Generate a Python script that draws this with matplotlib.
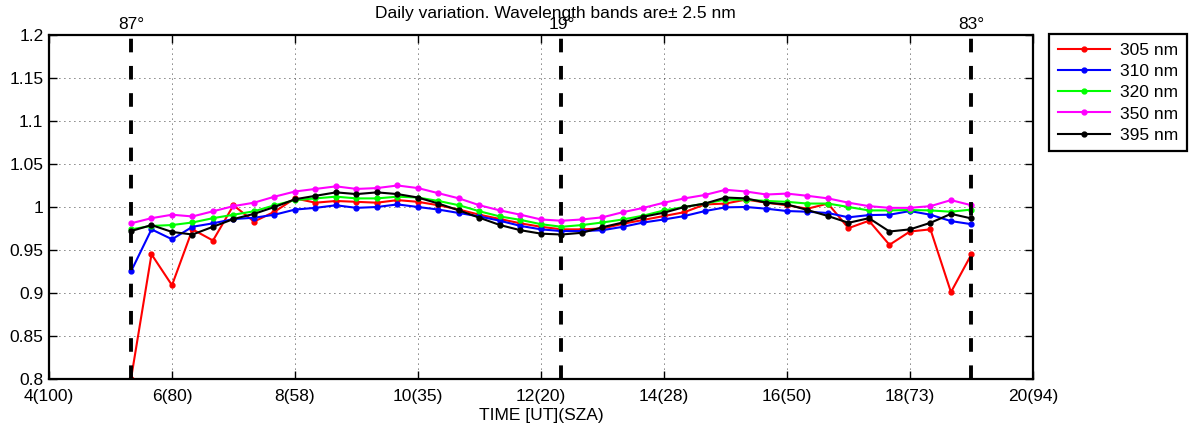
import numpy as np
import matplotlib
matplotlib.use("Agg")
import matplotlib.pyplot as plt

plt.rcParams['font.family'] = ['Liberation Sans', 'DejaVu Sans']

# time axis: one point every 20 minutes from 5:20 to 19:00 UT
t_start = 5 + 1/3
n_points = 42
time = t_start + np.arange(n_points) / 3

r305 = [0.800, 0.945, 0.909, 0.974, 0.961, 1.002, 0.983, 0.9945, 1.010, 1.005,
        1.007, 1.006, 1.005, 1.008, 1.006, 1.002, 0.997, 0.991, 0.986, 0.981,
        0.977, 0.974, 0.974, 0.975, 0.9805, 0.985, 0.9895, 0.994, 1.003, 1.004,
        1.0086, 1.005, 1.002, 0.998, 1.004, 0.9754, 0.984, 0.956, 0.9715, 0.974,
        0.901, 0.945]
r310 = [0.925, 0.974, 0.9625, 0.977, 0.981, 0.986, 0.9875, 0.991, 0.997, 0.999,
        1.002, 0.999, 1.000, 1.003, 1.000, 0.997, 0.993, 0.989, 0.984, 0.978,
        0.974, 0.972, 0.972, 0.973, 0.977, 0.982, 0.9855, 0.9895, 0.9953, 0.9996,
        1.000, 0.998, 0.9953, 0.9945, 0.993, 0.988, 0.9906, 0.991, 0.9953, 0.991,
        0.9836, 0.980]
r320 = [0.974, 0.978, 0.979, 0.982, 0.987, 0.991, 0.995, 1.002, 1.008, 1.010,
        1.012, 1.010, 1.010, 1.012, 1.011, 1.007, 1.002, 0.995, 0.989, 0.985,
        0.980, 0.977, 0.979, 0.982, 0.9855, 0.990, 0.996, 1.000, 1.004, 1.0086,
        1.0086, 1.007, 1.006, 1.004, 1.004, 1.000, 0.996, 0.996, 0.9965, 0.996,
        0.9945, 0.997]
r350 = [0.981, 0.987, 0.991, 0.989, 0.995, 1.001, 1.005, 1.012, 1.018, 1.021,
        1.024, 1.021, 1.022, 1.025, 1.022, 1.016, 1.010, 1.002, 0.996, 0.991,
        0.9855, 0.984, 0.9855, 0.988, 0.994, 0.999, 1.005, 1.010, 1.014, 1.020,
        1.018, 1.0145, 1.0156, 1.013, 1.010, 1.005, 1.001, 0.999, 0.999, 1.001,
        1.008, 1.002]
r395 = [0.972, 0.979, 0.971, 0.968, 0.977, 0.986, 0.992, 1.000, 1.009, 1.013,
        1.017, 1.015, 1.017, 1.015, 1.011, 1.004, 0.996, 0.9875, 0.979, 0.973,
        0.969, 0.968, 0.970, 0.9765, 0.982, 0.9887, 0.9934, 1.000, 1.004, 1.011,
        1.010, 1.005, 1.003, 0.9965, 0.9895, 0.9816, 0.987, 0.9715, 0.974, 0.9816,
        0.992, 0.9867]

series = [("305 nm", r305, "#ff0000"),
          ("310 nm", r310, "#0000ff"),
          ("320 nm", r320, "#00ff00"),
          ("350 nm", r350, "#ff00ff"),
          ("395 nm", r395, "#000000")]

tick_pos = [4, 6, 8, 10, 12, 14, 16, 18, 20]
tick_labels = ["4(100)", "6(80)", "8(58)", "10(35)", "12(20)",
               "14(28)", "16(50)", "18(73)", "20(94)"]
y_ticks = [0.8, 0.85, 0.9, 0.95, 1.0, 1.05, 1.1, 1.15, 1.2]
y_labels = ["0.8", "0.85", "0.9", "0.95", "1", "1.05", "1.1", "1.15", "1.2"]

sza_lines = [5 + 1/3, 12 + 1/3, 19.0]
sza_labels = ["87°", "19°", "83°"]

fs = 12.5

fig = plt.figure(figsize=(11.95, 4.32), dpi=100)
ax = fig.add_axes([0.041, 0.1227, 0.8234, 0.7963])

for name, vals, col in series:
    ax.plot(time, vals, color=col, lw=1.5, marker='o', ms=3.5, label=name)

for xv, lab in zip(sza_lines, sza_labels):
    ax.axvline(xv, color='k', lw=2.8, ls=(0, (3.5, 3.5)))
    ax.text(xv, 1.2 + 0.003, lab, ha='center', va='bottom', fontsize=fs)

ax.set_xlim(4, 20)
ax.set_ylim(0.8, 1.2)
ax.set_xticks(tick_pos)
ax.set_xticklabels(tick_labels)
ax.set_yticks(y_ticks)
ax.set_yticklabels(y_labels)
ax.grid(True, color='k', ls=(0, (1, 5)), lw=0.6)
ax.tick_params(direction='in', length=6, width=1, top=True, right=True,
               labelsize=fs)
ax.tick_params(axis='x', pad=7)
ax.tick_params(axis='y', pad=4)
for s in ax.spines.values():
    s.set_linewidth(1.6)

ax.set_xlabel("TIME [UT](SZA)", fontsize=fs, labelpad=3)
fig.text(0.465, 0.952, "Daily variation. Wavelength bands are\u00b1 2.5 nm",
         ha='center', va='bottom', fontsize=fs)

leg = ax.legend(loc='upper left', bbox_to_anchor=(0.8778, 0.9213),
                bbox_transform=fig.transFigure, fontsize=fs, fancybox=False,
                framealpha=1, edgecolor='k', borderaxespad=0,
                handlelength=3.0, handletextpad=0.6, labelspacing=0.35,
                borderpad=0.5)
leg.get_frame().set_linewidth(1.6)

fig.savefig("out.png", dpi=100)
